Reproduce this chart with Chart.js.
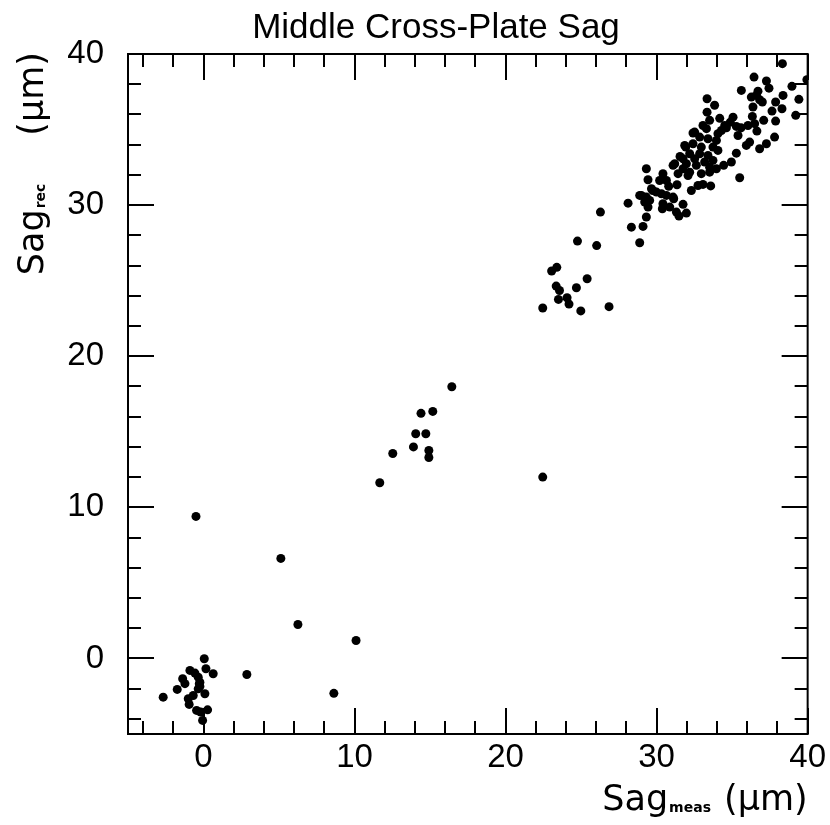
<!DOCTYPE html>
<html><head><meta charset="utf-8">
<script src="https://cdn.jsdelivr.net/npm/chart.js@4/dist/chart.umd.min.js"></script>
<style>html,body{margin:0;padding:0;background:#fff}canvas{display:block}</style>
</head><body>
<canvas id="c" width="830" height="825"></canvas>
<script>
const chartTitle = "Middle Cross-Plate Sag";
const xAxisMain = "Sag", xAxisSub = "meas", xAxisUnit = "(\u03BCm)";
const yAxisMain = "Sag", yAxisSub = "rec", yAxisUnit = "(\u03BCm)";
const xRange = [-5, 40];
const yRange = [-5, 40];
const xTickLabels = [0, 10, 20, 30, 40];
const yTickLabels = [0, 10, 20, 30, 40];
const minorStep = 2;

// measured sag (x) and reconstructed sag (y), in micrometres
const sagMeas = [
  // near zero
  0.05, 0.16, 0.64, -0.90, -0.57, -0.35, -1.38, -1.23, -0.24, -0.28, -0.24, -0.35, -1.74, -2.67, -0.68, 0.09, -1.01, -0.95, -0.46, -0.19, 0.27, -0.06,
  // isolated
  -0.50, 5.12, 6.25, 10.10, 8.63, 2.87,
  // 11-17
  11.67, 12.53, 13.90, 14.05, 14.40, 14.72, 15.18, 14.92, 14.92, 16.44,
  // 22-27
  22.46, 26.28, 24.76, 26.03, 23.39, 23.05, 25.40, 23.35, 23.57, 24.69, 23.50, 24.07, 24.20, 22.46, 24.98, 26.85,
  // 28-40 cluster
  38.33, 39.95, 36.45, 37.27, 37.44, 38.96, 38.37, 39.42, 39.21, 37.88, 38.30, 37.64, 37.88, 37.81,
  35.61, 36.71, 36.61, 36.27, 37.00, 36.82, 36.38, 36.34, 37.09, 36.49, 36.05, 36.64, 37.27, 36.82,
  35.94, 36.16, 35.28, 34.95, 34.44, 35.50, 35.06, 34.88, 35.28, 34.62, 34.29, 34.06, 35.39, 33.96,
  33.34, 33.84, 33.34, 33.51, 33.07, 32.52, 33.30, 32.85, 33.40, 31.93, 32.41, 32.96, 33.73, 34.06,
  32.19, 32.85, 33.40, 31.75, 32.52, 33.18, 33.73, 31.09, 31.97, 32.63, 33.51, 33.96, 31.75, 32.19,
  31.42, 32.96, 33.51, 32.08, 30.42, 29.32, 29.43, 30.20, 30.65, 31.35, 32.74, 33.07, 33.58, 29.66,
  29.99, 30.32, 30.65, 28.99, 29.32, 29.54, 29.21, 31.09, 30.42, 30.87, 30.38, 31.75, 31.31, 31.97,
  29.43, 28.11, 29.32, 28.33, 29.10, 31.48, 28.88, 28.88, 29.74, 31.13, 35.59, 31.55, 30.80, 32.30,
  34.18, 34.51, 32.41, 31.86, 31.20
];
const sagRec = [
  -0.02, -0.68, -1.01, -0.79, -0.97, -1.24, -1.34, -1.67, -1.57, -1.68, -1.85, -2.01, -2.05, -2.56, -2.45, -2.34, -2.67, -3.04, -3.44, -3.55, -3.40, -4.10,
  9.40, 6.62, 2.25, 1.19, -2.31, -1.06,
  11.63, 13.56, 14.00, 14.87, 16.22, 14.87, 16.35, 13.76, 13.30, 17.98,
  12.00, 29.54, 27.62, 27.32, 25.88, 25.64, 25.13, 24.64, 24.35, 24.53, 23.76, 23.87, 23.45, 23.19, 23.00, 23.28,
  39.36, 38.30, 38.47, 38.21, 37.74, 37.86, 37.26, 37.00, 35.94, 36.82, 36.38, 36.22, 35.56, 34.50,
  37.59, 37.54, 37.26, 37.15, 36.82, 36.97, 36.49, 35.87, 35.61, 35.39, 35.27, 34.90, 34.06, 33.73,
  33.95, 34.17, 33.44, 32.85, 32.63, 31.81, 35.82, 35.49, 35.21, 35.12, 34.94, 34.73, 34.61, 34.28,
  37.04, 36.61, 36.15, 35.61, 35.27, 34.83, 35.06, 34.50, 34.39, 33.84, 34.06, 33.84, 33.84, 33.62,
  33.40, 33.40, 33.29, 33.07, 33.07, 32.85, 32.96, 32.63, 32.74, 32.63, 32.51, 32.41, 32.41, 32.18,
  32.08, 32.08, 32.18, 31.96, 32.08, 32.41, 31.68, 31.63, 31.63, 31.35, 31.30, 31.37, 31.27, 31.08,
  30.86, 30.75, 30.64, 30.64, 30.53, 30.31, 30.20, 30.53, 30.09, 29.87, 29.76, 30.05, 29.54, 29.47,
  29.87, 30.13, 29.21, 28.54, 28.59, 29.28, 27.51, 30.64, 30.97, 30.42, 35.12, 33.22, 31.24, 30.97,
  35.74, 35.27, 34.77, 33.95, 32.74
];

const points = sagMeas.map((x, i) => ({ x: x, y: sagRec[i] }));
const FONT = "'Liberation Sans', Arial, Helvetica, sans-serif";
const TFONT = "'DejaVu Sans', 'Liberation Sans', sans-serif";

const framePlugin = {
  id: 'frame',
  afterDraw(chart) {
    const ctx = chart.ctx, a = chart.chartArea;
    const xs = chart.scales.x, ys = chart.scales.y;
    ctx.save();
    ctx.strokeStyle = '#000';
    ctx.lineWidth = 2;
    ctx.strokeRect(a.left, a.top, a.right - a.left, a.bottom - a.top);
    const major = 26, minor = 13;
    ctx.beginPath();
    for (let v = Math.ceil(xRange[0] / minorStep) * minorStep; v <= xRange[1]; v += minorStep) {
      const px = Math.round(xs.getPixelForValue(v));
      const L = xTickLabels.includes(v) ? major : minor;
      ctx.moveTo(px, a.bottom); ctx.lineTo(px, a.bottom - L);
      ctx.moveTo(px, a.top); ctx.lineTo(px, a.top + L);
    }
    for (let v = Math.ceil(yRange[0] / minorStep) * minorStep; v <= yRange[1]; v += minorStep) {
      const py = Math.round(ys.getPixelForValue(v));
      const L = yTickLabels.includes(v) ? major : minor;
      ctx.moveTo(a.left, py); ctx.lineTo(a.left + L, py);
      ctx.moveTo(a.right, py); ctx.lineTo(a.right - L, py);
    }
    ctx.stroke();

    ctx.fillStyle = '#000';
    // title
    ctx.font = '35px ' + FONT;
    ctx.textAlign = 'center';
    ctx.textBaseline = 'alphabetic';
    ctx.fillText(chartTitle, 436, 38);

    // axis titles (right-aligned at the local origin)
    function axisTitle(main, sub, unit, gap) {
      ctx.font = '35px ' + TFONT;
      const wUnit = ctx.measureText(unit).width;
      const wMain = ctx.measureText(main).width;
      ctx.font = 'bold 14px ' + TFONT;
      const wSub = ctx.measureText(sub).width;
      let xr = 0;
      ctx.textAlign = 'left';
      ctx.font = '35px ' + TFONT;
      ctx.fillText(unit, xr - wUnit, 0);
      xr -= wUnit + gap;
      ctx.font = 'bold 14px ' + TFONT;
      ctx.fillText(sub, xr - wSub, 2);
      xr -= wSub + 1;
      ctx.font = '35px ' + TFONT;
      ctx.fillText(main, xr - wMain, 0);
    }
    ctx.save();
    ctx.translate(a.right, 810);
    axisTitle(xAxisMain, xAxisSub, xAxisUnit, 13);
    ctx.restore();
    ctx.save();
    ctx.translate(43, a.top - 2);
    ctx.rotate(-Math.PI / 2);
    axisTitle(yAxisMain, yAxisSub, yAxisUnit, 48);
    ctx.restore();
    ctx.restore();
  }
};

new Chart(document.getElementById('c'), {
  type: 'scatter',
  data: {
    datasets: [{
      data: points,
      pointRadius: 4.5,
      pointHoverRadius: 4.5,
      pointBackgroundColor: '#000',
      pointBorderWidth: 0,
      pointBorderColor: '#000'
    }]
  },
  options: {
    responsive: false,
    animation: false,
    devicePixelRatio: 1,
    layout: { padding: { top: 54, right: 22, left: 0, bottom: 0 } },
    plugins: { legend: { display: false }, title: { display: false }, tooltip: { enabled: false } },
    scales: {
      x: {
        type: 'linear', min: xRange[0], max: xRange[1],
        grid: { display: false, drawTicks: false },
        border: { display: false },
        afterBuildTicks: s => { s.ticks = xTickLabels.map(v => ({ value: v })); },
        afterFit: s => { s.height = 91; },
        ticks: { color: '#000', font: { family: FONT, size: 33 }, padding: 4, maxRotation: 0, autoSkip: false }
      },
      y: {
        type: 'linear', min: yRange[0], max: yRange[1],
        grid: { display: false, drawTicks: false },
        border: { display: false },
        afterBuildTicks: s => { s.ticks = yTickLabels.map(v => ({ value: v })); },
        afterFit: s => { s.width = 128; },
        ticks: { color: '#000', font: { family: FONT, size: 33 }, padding: 24, autoSkip: false }
      }
    }
  },
  plugins: [framePlugin]
});
</script>
</body></html>
